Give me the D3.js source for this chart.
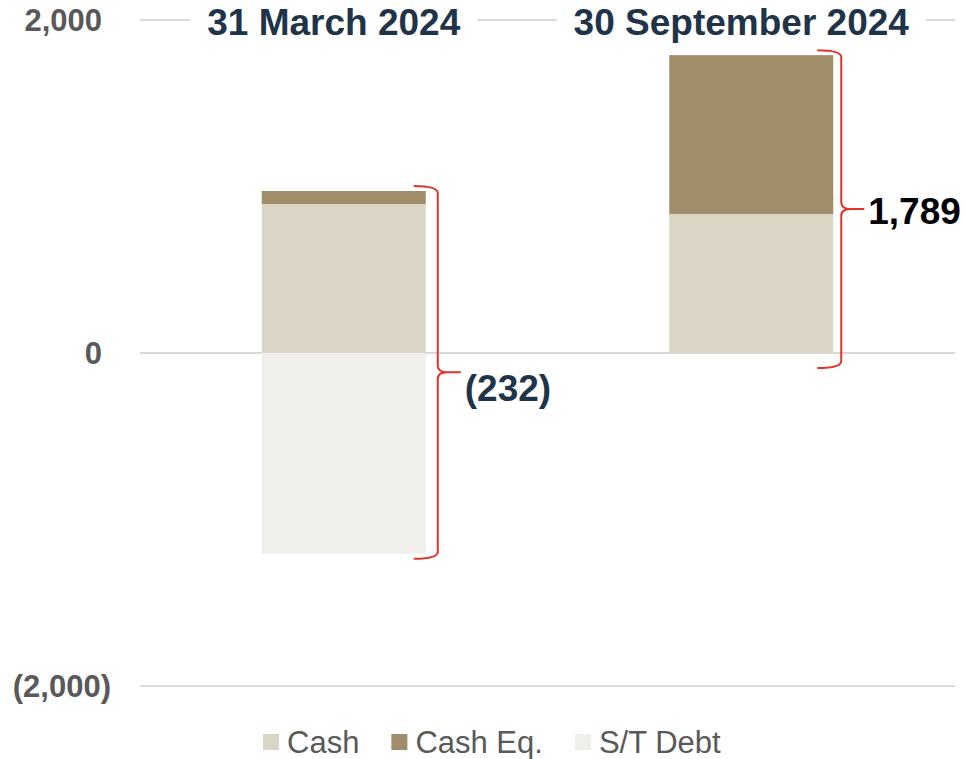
<!DOCTYPE html>
<html>
<head>
<meta charset="utf-8">
<script src="https://cdnjs.cloudflare.com/ajax/libs/d3/7.8.5/d3.min.js"></script>
<style>
  body { margin: 0; background: #fff; }
  svg { display: block; font-family: "Liberation Sans", Arial, sans-serif; }
</style>
</head>
<body>
<svg id="chart" width="964" height="759"></svg>
<script>
// data
var periods = ["31 March 2024", "30 September 2024"];
var seriesNames = ["Cash", "Cash Eq.", "S/T Debt"];
var cash = [895, 835];
var cashEq = [78, 954];
var stDebt = [-1205, 0];
var netLabels = ["(232)", "1,789"];
var tickValues = [-2000, 0, 2000];
var tickLabels = ["(2,000)", "0", "2,000"];

var colors = { "Cash": "#dbd5c5", "Cash Eq.": "#9f8e69", "S/T Debt": "#f1efea" };

var rows = periods.map(function(p, i) {
  return { period: p, "Cash": cash[i], "Cash Eq.": cashEq[i], "S/T Debt": stDebt[i] };
});

var svg = d3.select("#chart");

var x = d3.scaleBand().domain(periods).range([140, 955]);
var y = d3.scaleLinear().domain([-2000, 2000]).range([686, 20]);
var barW = 164;

// gridlines
svg.append("g").selectAll("line")
  .data(tickValues)
  .enter().append("line")
  .attr("x1", 140).attr("x2", 955)
  .attr("y1", function(d) { return y(d); })
  .attr("y2", function(d) { return y(d); })
  .attr("stroke", "#d9d9d9")
  .attr("stroke-width", 2);

// y tick labels (positives padded as if a ")" followed)
svg.append("g").selectAll("text")
  .data(tickValues)
  .enter().append("text")
  .attr("x", function(d) { return d < 0 ? 111 : 102; })
  .attr("y", function(d) { return y(d) + 11; })
  .attr("text-anchor", "end")
  .attr("font-size", 31)
  .attr("font-weight", "bold")
  .attr("fill", "#595959")
  .text(function(d, i) { return tickLabels[i]; });

// stacked bars
var stack = d3.stack().keys(seriesNames).offset(d3.stackOffsetDiverging);
var layers = stack(rows);

svg.append("g").selectAll("g")
  .data(layers)
  .enter().append("g")
  .attr("fill", function(d) { return colors[d.key]; })
  .selectAll("rect")
  .data(function(d) { return d; })
  .enter().append("rect")
  .attr("x", function(d) { return x(d.data.period) + x.bandwidth() / 2 - barW / 2; })
  .attr("y", function(d) { return y(d[1]); })
  .attr("width", barW)
  .attr("height", function(d) { return y(d[0]) - y(d[1]); });

// column titles with white boxes over the top gridline
var titles = svg.append("g");
periods.forEach(function(p) {
  var g = titles.append("g");
  var t = g.append("text")
    .attr("x", x(p) + x.bandwidth() / 2 - 10)
    .attr("y", 35)
    .attr("text-anchor", "middle")
    .attr("font-size", 37)
    .attr("font-weight", "bold")
    .attr("fill", "#1f3449")
    .text(p);
  var bb = t.node().getBBox();
  g.insert("rect", "text")
    .attr("x", bb.x - 17).attr("y", 8)
    .attr("width", bb.width + 34).attr("height", 24)
    .attr("fill", "#fff");
});

// curly braces showing net cash
function brace(X, top, bottom) {
  var mid = (top + bottom) / 2;
  return "M" + (X - 24) + "," + top +
    " Q" + X + "," + top + " " + X + "," + (top + 7) +
    " L" + X + "," + (mid - 7) +
    " Q" + X + "," + mid + " " + (X + 9) + "," + mid +
    " L" + (X + 23) + "," + mid +
    " M" + (X + 9) + "," + mid +
    " Q" + X + "," + mid + " " + X + "," + (mid + 7) +
    " L" + X + "," + (bottom - 7) +
    " Q" + X + "," + bottom + " " + (X - 24) + "," + bottom;
}

var braceGap = [12, 8];
var braces = rows.map(function(r, i) {
  var hi = r["Cash"] + r["Cash Eq."];
  var lo = Math.min(0, r["S/T Debt"]);
  return {
    X: x(r.period) + x.bandwidth() / 2 + barW / 2 + braceGap[i],
    top: y(hi) - 5,
    bottom: y(lo) + (lo < 0 ? 5 : 15),
    label: netLabels[i],
    neg: hi + lo < 0
  };
});

svg.append("g").selectAll("path")
  .data(braces)
  .enter().append("path")
  .attr("d", function(d) { return brace(d.X, d.top, d.bottom); })
  .attr("fill", "none")
  .attr("stroke", "#e0332b")
  .attr("stroke-width", 2);

svg.append("g").selectAll("text")
  .data(braces)
  .enter().append("text")
  .attr("x", function(d) { return d.X + 27; })
  .attr("y", function(d) { return (d.top + d.bottom) / 2 + (d.neg ? 29 : 15); })
  .attr("font-size", 37)
  .attr("font-weight", "bold")
  .attr("fill", function(d) { return d.neg ? "#1f3449" : "#000"; })
  .text(function(d) { return d.label; });

// legend
var legend = svg.append("g");
var lx = 263;
seriesNames.forEach(function(name) {
  legend.append("rect")
    .attr("x", lx).attr("y", 734)
    .attr("width", 16).attr("height", 16)
    .attr("fill", colors[name]);
  var t = legend.append("text")
    .attr("x", lx + 24).attr("y", 753)
    .attr("font-size", 31)
    .attr("fill", "#595959")
    .text(name);
  lx += 24 + t.node().getComputedTextLength() + 32;
});
</script>
</body>
</html>
